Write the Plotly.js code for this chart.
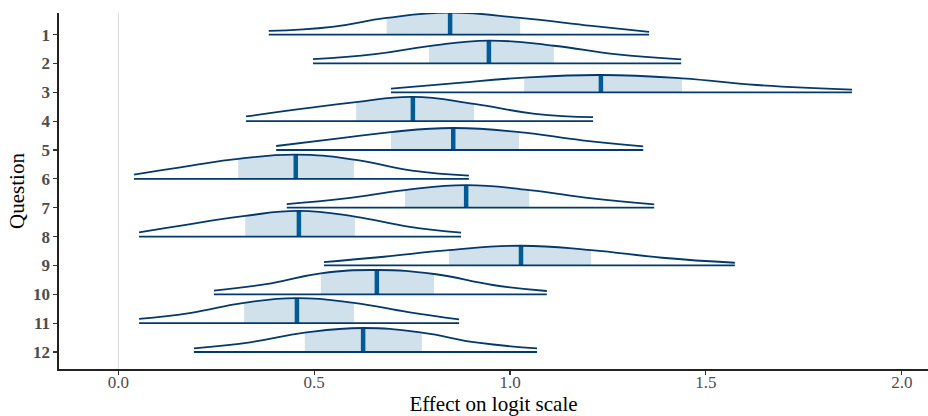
<!DOCTYPE html>
<html>
<head>
<meta charset="utf-8">
<script src="https://cdn.plot.ly/plotly-3.0.1.min.js"></script>
<style>
  html, body { margin: 0; padding: 0; background: #ffffff; }
  #chart { width: 928px; height: 416px; }
</style>
</head>
<body>
<div id="chart"></div>
<script>
// Questions (one ridge each)
const questions = ['1','2','3','4','5','6','7','8','9','10','11','12'];

// x positions (effect on logit scale)
const tailLo  = [0.384,0.497,0.696,0.326,0.403,0.040,0.430,0.053,0.525,0.244,0.053,0.193];
const midLo   = [0.546,0.655,0.847,0.487,0.558,0.186,0.581,0.196,0.678,0.390,0.186,0.341];
const innerLo = [0.685,0.793,1.036,0.607,0.696,0.306,0.732,0.324,0.844,0.517,0.321,0.476];
const median  = [0.847,0.946,1.232,0.752,0.855,0.453,0.888,0.461,1.028,0.660,0.456,0.625];
const innerHi = [1.026,1.112,1.439,0.908,1.023,0.602,1.049,0.604,1.207,0.806,0.602,0.775];
const midHi   = [1.209,1.268,1.630,1.064,1.184,0.750,1.209,0.740,1.388,0.956,0.740,0.918];
const tailHi  = [1.355,1.437,1.873,1.212,1.340,0.895,1.368,0.875,1.574,1.094,0.870,1.069];

// scaled density heights at those positions (fraction of the row spacing)
const hTailLo  = [0.128,0.149,0.128,0.163,0.139,0.149,0.128,0.149,0.114,0.128,0.149,0.128];
const hMidLo   = [0.267,0.322,0.301,0.461,0.391,0.461,0.322,0.461,0.301,0.381,0.357,0.346];
const hInnerLo = [0.578,0.599,0.509,0.658,0.623,0.693,0.613,0.717,0.530,0.727,0.703,0.668];
const hMedian  = [0.762,0.790,0.599,0.841,0.762,0.841,0.786,0.890,0.682,0.841,0.866,0.831];
const hInnerHi = [0.578,0.613,0.485,0.599,0.623,0.668,0.613,0.693,0.530,0.703,0.703,0.668];
const hMidHi   = [0.301,0.322,0.253,0.253,0.336,0.287,0.322,0.346,0.267,0.322,0.381,0.322];
const hTailHi  = [0.093,0.139,0.093,0.139,0.128,0.114,0.114,0.139,0.093,0.114,0.128,0.128];

const xTickVals = [0, 0.5, 1.0, 1.5, 2.0];
const xTickText = ['0.0', '0.5', '1.0', '1.5', '2.0'];

const DARK = '#03396c';
const LIGHT = '#d1e1ec';
const MIDH = '#005b96';
const SERIF = 'Liberation Serif, Times New Roman, serif';

const traces = [];
questions.forEach((q, i) => {
  const base = i + 1;
  // invisible baseline under the 50% interval (for fill)
  traces.push({
    type: 'scatter', mode: 'lines',
    x: [innerLo[i], median[i], innerHi[i]],
    y: [base, base, base],
    line: { width: 0 }, hoverinfo: 'skip', showlegend: false
  });
  // shaded 50% interval
  traces.push({
    type: 'scatter', mode: 'lines',
    x: [innerLo[i], median[i], innerHi[i]],
    y: [base - hInnerLo[i], base - hMedian[i], base - hInnerHi[i]],
    line: { width: 0, shape: 'spline', smoothing: 1.3 },
    fill: 'tonexty', fillcolor: LIGHT,
    hoverinfo: 'skip', showlegend: false
  });
  // median segment
  traces.push({
    type: 'scatter', mode: 'lines',
    x: [median[i], median[i]],
    y: [base, base - hMedian[i]],
    line: { width: 4.5, color: MIDH },
    hoverinfo: 'skip', showlegend: false
  });
  // density outline
  traces.push({
    type: 'scatter', mode: 'lines',
    x: [tailLo[i], midLo[i], innerLo[i], median[i], innerHi[i], midHi[i], tailHi[i]],
    y: [base - hTailLo[i], base - hMidLo[i], base - hInnerLo[i], base - hMedian[i],
        base - hInnerHi[i], base - hMidHi[i], base - hTailHi[i]],
    line: { width: 1.8, color: DARK, shape: 'spline', smoothing: 1.3 },
    hoverinfo: 'skip', showlegend: false
  });
  // bottom line
  traces.push({
    type: 'scatter', mode: 'lines',
    x: [tailLo[i], tailHi[i]],
    y: [base, base],
    line: { width: 1.8, color: DARK },
    hoverinfo: 'skip', showlegend: false
  });
});

const layout = {
  width: 928, height: 416,
  margin: { l: 59, r: 0, t: 13, b: 47 },
  paper_bgcolor: '#ffffff', plot_bgcolor: '#ffffff',
  showlegend: false,
  xaxis: {
    range: [-0.1514, 2.067],
    tickvals: xTickVals, ticktext: xTickText,
    showgrid: false,
    zeroline: true, zerolinecolor: '#dcdcdc', zerolinewidth: 1.6,
    showline: true, linecolor: '#222222', linewidth: 1.6,
    ticks: 'outside', ticklen: 4, tickwidth: 1.2, tickcolor: '#333333',
    ticklabelstandoff: -7,
    tickfont: { family: SERIF, size: 17, color: '#4d4d4d' },
    title: { text: 'Effect on logit scale', font: { family: SERIF, size: 21, color: '#000000' }, standoff: 12 },
    automargin: false
  },
  yaxis: {
    range: [12.589, 0.252],
    tickvals: questions.map((q, i) => i + 1), ticktext: questions,
    showgrid: false, zeroline: false,
    showline: true, linecolor: '#222222', linewidth: 1.6,
    ticks: 'outside', ticklen: 4, tickwidth: 1.2, tickcolor: '#333333',
    tickfont: { family: SERIF, size: 17, color: '#4d4d4d', weight: 'bold' },
    title: { text: 'Question', font: { family: SERIF, size: 21, color: '#000000' }, standoff: 2 },
    automargin: false
  }
};

Plotly.newPlot('chart', traces, layout, { staticPlot: true, displayModeBar: false });
</script>
</body>
</html>
